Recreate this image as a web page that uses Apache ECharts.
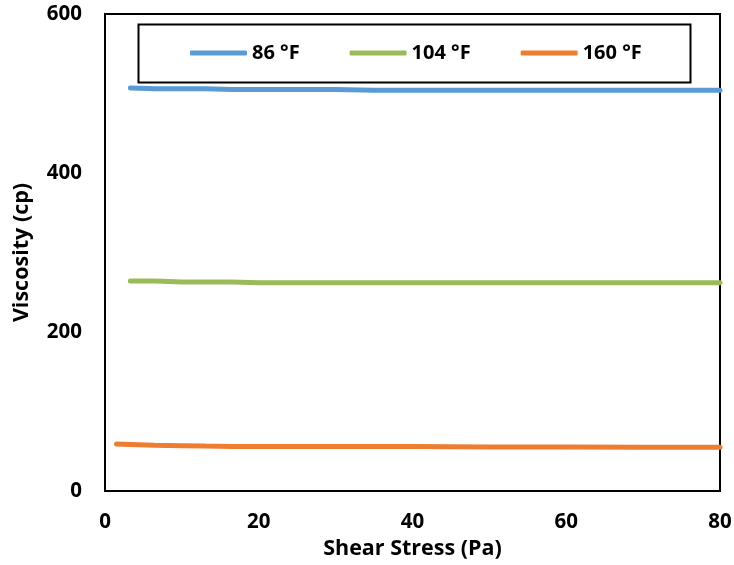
<!DOCTYPE html>
<html><head><meta charset="utf-8">
<script src="https://cdn.jsdelivr.net/npm/echarts@6/dist/echarts.min.js"></script>
<style>html,body{margin:0;padding:0;background:#fff}#c{width:734px;height:565px}</style>
</head><body><div id="c"></div>
<script>
const seriesNames = ['86 °F', '104 °F', '160 °F'];
const colors = ['#5B9BD5', '#9BBB59', '#ED7D31'];
const s86 = [[3.3,507],[6.5,506],[10,506],[13,506],[16.5,505],[20,505],[26,505],[30,505],[35,504],[40,504],[50,504],[60,504],[70,504],[80,504]];
const s104 = [[3.3,264],[6.5,264],[10,263],[13,263],[16.5,263],[20,262],[26,262],[30,262],[40,262],[50,262],[60,262],[70,262],[80,262]];
const s160 = [[1.5,59],[3.3,58.5],[6.5,57.5],[10,57],[13,56.5],[16.5,56],[20,56],[30,56],[40,56],[50,55.5],[60,55.5],[70,55],[80,55]];
const xTicks = {min:0, max:80, interval:20};
const yTicks = {min:0, max:600, interval:200};

const font = '"Open Sans", sans-serif';
const chart = echarts.init(document.getElementById('c'), null, {renderer:'canvas'});
const datasets = [s86, s104, s160];
chart.setOption({
  animation:false,
  backgroundColor:'#fff',
  grid:{left:105, right:14, top:14, bottom:74, show:true, borderColor:'#000', borderWidth:2,
        containLabel:false, outerBoundsMode:'none'},
  graphic:[{type:'rect', left:136, top:22, shape:{width:552, height:58}, style:{fill:'none', stroke:'#000', lineWidth:2}, z:5}],
  legend:{
    top:38, left:185, itemWidth:57, itemHeight:5, itemGap:50,
    icon:'roundRect',
    textStyle:{fontFamily:font, fontWeight:'bold', fontSize:20, color:'#000'},
    data:seriesNames
  },
  xAxis:{type:'value', min:xTicks.min, max:xTicks.max, interval:xTicks.interval,
    name:'Shear Stress (Pa)', nameLocation:'middle', nameGap:36,
    nameTextStyle:{fontFamily:font, fontWeight:'bold', fontSize:21.5, color:'#000'},
    axisLine:{show:true, lineStyle:{color:'#000', width:2}}, axisTick:{show:false},
    splitLine:{show:false},
    axisLabel:{fontFamily:font, fontWeight:'bold', fontSize:20.5, color:'#000', margin:21}},
  yAxis:{type:'value', min:yTicks.min, max:yTicks.max, interval:yTicks.interval,
    name:'Viscosity (cp)', nameLocation:'middle', nameGap:72,
    nameTextStyle:{fontFamily:font, fontWeight:'bold', fontSize:21.5, color:'#000'},
    axisLine:{show:true, lineStyle:{color:'#000', width:2}}, axisTick:{show:false},
    splitLine:{show:false},
    axisLabel:{fontFamily:font, fontWeight:'bold', fontSize:20.5, color:'#000', margin:23}},
  series: seriesNames.map((n,i)=>({
    name:n, type:'line', data:datasets[i], showSymbol:false, symbol:'none',
    color:colors[i], lineStyle:{width:5, color:colors[i], cap:'round'}
  }))
});
</script></body></html>
